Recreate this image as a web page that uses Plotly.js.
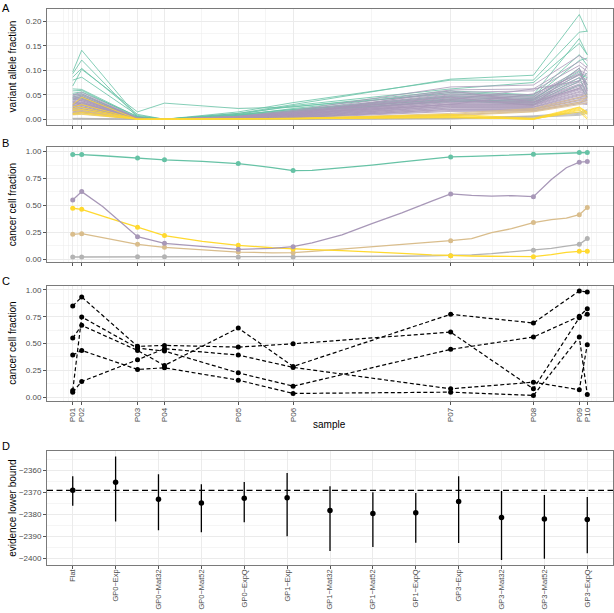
<!DOCTYPE html>
<html>
<head>
<meta charset="utf-8">
<script src="https://cdn.plot.ly/plotly-3.0.1.min.js"></script>
<style>html,body{margin:0;padding:0;background:#fff}#chart{width:614px;height:613px}</style>
</head>
<body>
<div id="chart"></div>
<script>
// ---------------- data ----------------
const sampleNames = ['P01','P02','P03','P04','P05','P06','P07','P08','P09','P10'];
const sampleTime  = [0, 9, 65, 92, 166, 221, 379, 462, 508, 516];
const cloneColors = ['#66C2A5', '#A898B8', '#FFD92F', '#D9BD8C', '#B3B3B3'];

// Panel A: variant allele fraction per mutation (rows), grouped by clone
const vafClone1 = [
  [0.097, 0.141, 0.005, 0.000, 0.012, 0.030, 0.082, 0.090, 0.214, 0.179],
  [0.093, 0.121, 0.004, 0.000, 0.015, 0.034, 0.080, 0.080, 0.178, 0.180],
  [0.086, 0.104, 0.010, 0.000, 0.010, 0.028, 0.062, 0.075, 0.155, 0.132],
  [0.068, 0.102, 0.015, 0.033, 0.022, 0.025, 0.058, 0.050, 0.165, 0.132],
  [0.080, 0.086, 0.008, 0.000, 0.008, 0.022, 0.055, 0.048, 0.132, 0.110],
  [0.062, 0.061, 0.005, 0.000, 0.012, 0.026, 0.052, 0.045, 0.120, 0.125],
  [0.058, 0.059, 0.003, 0.000, 0.009, 0.020, 0.048, 0.042, 0.098, 0.062],
  [0.053, 0.056, 0.006, 0.000, 0.007, 0.018, 0.046, 0.038, 0.092, 0.085],
  [0.050, 0.052, 0.002, 0.000, 0.006, 0.016, 0.042, 0.035, 0.085, 0.050],
  [0.046, 0.049, 0.003, 0.000, 0.010, 0.020, 0.040, 0.033, 0.078, 0.095],
  [0.043, 0.046, 0.002, 0.000, 0.005, 0.014, 0.038, 0.030, 0.070, 0.045],
  [0.040, 0.043, 0.004, 0.000, 0.008, 0.017, 0.036, 0.040, 0.104, 0.070]
];
const vafClone2 = [
  [0.050, 0.055, 0.003, 0, 0.006, 0.018, 0.066, 0.070, 0.130, 0.120],
  [0.048, 0.052, 0.002, 0, 0.005, 0.016, 0.060, 0.062, 0.118, 0.105],
  [0.045, 0.050, 0.002, 0, 0.006, 0.015, 0.055, 0.058, 0.110, 0.098],
  [0.043, 0.047, 0.001, 0, 0.004, 0.014, 0.052, 0.050, 0.100, 0.092],
  [0.041, 0.046, 0.002, 0, 0.005, 0.013, 0.050, 0.047, 0.095, 0.088],
  [0.039, 0.044, 0.001, 0, 0.004, 0.012, 0.048, 0.045, 0.090, 0.080],
  [0.037, 0.042, 0.001, 0, 0.003, 0.012, 0.046, 0.043, 0.085, 0.075],
  [0.035, 0.040, 0.002, 0, 0.004, 0.011, 0.044, 0.041, 0.080, 0.072],
  [0.034, 0.038, 0.001, 0, 0.003, 0.010, 0.042, 0.040, 0.076, 0.068],
  [0.032, 0.036, 0.001, 0, 0.003, 0.010, 0.040, 0.038, 0.072, 0.065],
  [0.031, 0.035, 0.001, 0, 0.002, 0.009, 0.038, 0.036, 0.070, 0.062],
  [0.030, 0.033, 0.000, 0, 0.003, 0.009, 0.037, 0.035, 0.067, 0.060],
  [0.028, 0.032, 0.001, 0, 0.002, 0.008, 0.035, 0.034, 0.064, 0.058],
  [0.027, 0.030, 0.000, 0, 0.002, 0.008, 0.034, 0.032, 0.062, 0.056],
  [0.026, 0.029, 0.001, 0, 0.002, 0.007, 0.032, 0.031, 0.060, 0.054],
  [0.025, 0.028, 0.000, 0, 0.002, 0.007, 0.031, 0.030, 0.057, 0.052],
  [0.024, 0.026, 0.000, 0, 0.001, 0.006, 0.030, 0.029, 0.055, 0.050],
  [0.022, 0.025, 0.000, 0, 0.001, 0.006, 0.028, 0.028, 0.052, 0.048],
  [0.021, 0.024, 0.000, 0, 0.001, 0.005, 0.027, 0.026, 0.050, 0.046],
  [0.020, 0.022, 0.000, 0, 0.001, 0.005, 0.026, 0.025, 0.048, 0.044],
  [0.018, 0.021, 0.000, 0, 0.001, 0.004, 0.024, 0.024, 0.045, 0.042],
  [0.017, 0.020, 0.000, 0, 0.001, 0.004, 0.023, 0.022, 0.043, 0.040],
  [0.015, 0.018, 0.000, 0, 0.000, 0.003, 0.021, 0.021, 0.040, 0.038],
  [0.014, 0.016, 0.000, 0, 0.000, 0.003, 0.020, 0.020, 0.038, 0.035],
  [0.012, 0.015, 0.000, 0, 0.000, 0.003, 0.018, 0.018, 0.035, 0.032],
  [0.010, 0.013, 0.000, 0, 0.000, 0.002, 0.016, 0.017, 0.032, 0.030],
  [0.036, 0.030, 0.001, 0, 0.004, 0.010, 0.058, 0.035, 0.063, 0.085],
  [0.029, 0.041, 0.001, 0, 0.003, 0.012, 0.030, 0.052, 0.092, 0.070],
  [0.044, 0.038, 0.002, 0, 0.002, 0.009, 0.040, 0.062, 0.078, 0.110],
  [0.023, 0.034, 0.000, 0, 0.005, 0.014, 0.045, 0.028, 0.105, 0.058]
];
const vafClone3 = [
  [0.030, 0.045, 0.000, 0, 0.001, 0.002, 0.010, 0.002, 0.025, 0.015],
  [0.025, 0.030, 0.000, 0, 0.001, 0.002, 0.008, 0.001, 0.022, 0.012],
  [0.022, 0.024, 0.000, 0, 0.000, 0.001, 0.006, 0.000, 0.020, 0.003],
  [0.012, 0.014, 0.000, 0, 0.000, 0.001, 0.004, 0.000, 0.018, 0.010],
  [0.010, 0.011, 0.000, 0, 0.000, 0.001, 0.003, 0.001, 0.015, 0.000],
  [0.018, 0.020, 0.000, 0, 0.000, 0.001, 0.005, 0.000, 0.024, 0.014]
];
const vafClone4 = [
  [0.018, 0.020, 0.000, 0, 0.000, 0.001, 0.012, 0.022, 0.045, 0.050],
  [0.015, 0.016, 0.000, 0, 0.000, 0.001, 0.010, 0.020, 0.040, 0.044],
  [0.012, 0.013, 0.000, 0, 0.000, 0.001, 0.008, 0.018, 0.035, 0.038],
  [0.009, 0.010, 0.000, 0, 0.000, 0.000, 0.007, 0.015, 0.030, 0.034],
  [0.020, 0.017, 0.000, 0, 0.000, 0.001, 0.009, 0.016, 0.033, 0.046]
];
const vafClone5 = [
  [0.001, 0.001, 0, 0, 0, 0, 0.002, 0.006, 0.012, 0.018],
  [0.000, 0.001, 0, 0, 0, 0, 0.001, 0.005, 0.010, 0.015],
  [0.001, 0.000, 0, 0, 0, 0, 0.001, 0.004, 0.008, 0.012],
  [0.002, 0.002, 0, 0, 0, 0, 0.002, 0.007, 0.014, 0.020]
];

// Panel B: clone cancer cell fraction at samples (points) and along time (curves)
const ccfClone1 = [0.973, 0.973, 0.942, 0.924, 0.889, 0.824, 0.951, 0.977, 0.992, 0.992];
const ccfClone2 = [0.550, 0.628, 0.208, 0.146, 0.090, 0.115, 0.606, 0.581, 0.902, 0.908];
const ccfClone3 = [0.473, 0.463, 0.296, 0.218, 0.128, 0.093, 0.031, 0.022, 0.072, 0.072];
const ccfClone4 = [0.230, 0.236, 0.137, 0.109, 0.065, 0.059, 0.171, 0.339, 0.413, 0.479];
const ccfClone5 = [0.019, 0.019, 0.020, 0.020, 0.019, 0.019, 0.031, 0.081, 0.137, 0.190];

const curveTime   = [0, 9, 30, 50, 65, 92, 130, 166, 200, 221, 240, 270, 300, 330, 360, 379, 400, 420, 440, 462, 480, 495, 508, 516];
const curveClone1 = [0.973, 0.973, 0.962, 0.950, 0.942, 0.924, 0.910, 0.889, 0.852, 0.824, 0.826, 0.848, 0.875, 0.905, 0.935, 0.951, 0.956, 0.962, 0.969, 0.977, 0.985, 0.990, 0.992, 0.992];
const curveClone2 = [0.550, 0.628, 0.490, 0.330, 0.208, 0.146, 0.115, 0.090, 0.100, 0.115, 0.150, 0.225, 0.330, 0.430, 0.540, 0.606, 0.592, 0.586, 0.590, 0.581, 0.740, 0.850, 0.902, 0.908];
const curveClone3 = [0.473, 0.463, 0.400, 0.341, 0.296, 0.218, 0.165, 0.128, 0.105, 0.093, 0.088, 0.078, 0.068, 0.052, 0.038, 0.031, 0.028, 0.026, 0.024, 0.022, 0.040, 0.062, 0.072, 0.072];
const curveClone4 = [0.230, 0.236, 0.200, 0.163, 0.137, 0.109, 0.085, 0.065, 0.058, 0.059, 0.072, 0.092, 0.115, 0.135, 0.155, 0.171, 0.190, 0.245, 0.282, 0.339, 0.367, 0.380, 0.413, 0.479];
const curveClone5 = [0.019, 0.019, 0.019, 0.019, 0.020, 0.020, 0.020, 0.019, 0.019, 0.019, 0.020, 0.022, 0.024, 0.026, 0.029, 0.031, 0.038, 0.050, 0.065, 0.081, 0.100, 0.120, 0.137, 0.190];

// Panel C: cluster cancer cell fractions
const ccfCluster1 = [0.850, 0.935, 0.474, 0.483, 0.467, 0.498, 0.607, 0.078, 0.741, 0.773];
const ccfCluster2 = [0.551, 0.670, 0.436, 0.296, 0.645, 0.287, 0.773, 0.692, 0.991, 0.981];
const ccfCluster3 = [0.393, 0.436, 0.259, 0.274, 0.159, 0.035, 0.047, 0.016, 0.561, 0.025];
const ccfCluster4 = [0.062, 0.748, 0.458, 0.430, 0.227, 0.103, 0.446, 0.561, 0.754, 0.825];
const ccfCluster5 = [0.047, 0.146, 0.349, 0.452, 0.393, 0.278, 0.078, 0.140, 0.069, 0.489];

// Panel D: evidence lower bound per model
const models   = ['Flat', 'GP0\u2212Exp', 'GP0\u2212Mat32', 'GP0\u2212Mat52', 'GP0\u2212ExpQ', 'GP1\u2212Exp', 'GP1\u2212Mat32', 'GP1\u2212Mat52', 'GP1\u2212ExpQ', 'GP3\u2212Exp', 'GP3\u2212Mat32', 'GP3\u2212Mat52', 'GP3\u2212ExpQ'];
const elboMean = [-2369.1, -2365.4, -2373.1, -2374.8, -2372.7, -2372.5, -2378.2, -2379.6, -2379.3, -2374.2, -2381.4, -2382.1, -2382.3];
const elboLow  = [-2376.1, -2383.3, -2387.2, -2388.1, -2383.6, -2390.0, -2396.6, -2394.8, -2392.9, -2393.0, -2400.8, -2400.2, -2397.7];
const elboHigh = [-2362.7, -2353.7, -2361.8, -2366.3, -2365.3, -2361.2, -2367.2, -2369.9, -2370.3, -2362.7, -2369.4, -2371.2, -2372.1];

// ---------------- helpers ----------------
function expandRange(vals, f) {
  const lo = Math.min(...vals), hi = Math.max(...vals), s = hi - lo;
  return [lo - f * s, hi + f * s];
}
function minorBreaks(b, lim) {
  const bd = b[1] - b[0];
  let e = b.slice();
  if (lim[0] < e[0]) e.unshift(e[0] - bd);
  if (lim[1] > e[e.length - 1]) e.push(e[e.length - 1] + bd);
  const out = [];
  for (let i = 0; i < e.length - 1; i++) { out.push(e[i], (e[i] + e[i + 1]) / 2); }
  out.push(e[e.length - 1]);
  return out.filter(v => v >= lim[0] && v <= lim[1] && !b.some(m => Math.abs(m - v) < 1e-9));
}
function seq(a, b, s) { const o = []; for (let v = a; v <= b + 1e-9; v += s) o.push(+v.toFixed(6)); return o; }

// ---------------- geometry ----------------
const H = 613, T = 9, B = 47;
const plotH = H - T - B;
function dom(topPx, botPx) { return [(H - B - botPx) / plotH, (H - B - topPx) / plotH]; }
function px2x(p) { return (p - 47) / 566; }
function px2y(p) { return (H - B - p) / plotH; }

const FONT = 'Liberation Sans, Arial, Helvetica, sans-serif';
const tickFont = {family: FONT, size: 8, color: '#4D4D4D'};
const GRID = '#EBEBEB', FRAME = '#7A7A7A', TICK = '#555555';

const xRange = expandRange(sampleTime, 0.05);
const xMinor = minorBreaks(sampleTime, xRange);

function xTimeAxis(anchor, showLabels) {
  return {
    anchor: anchor, domain: [0, 1], range: xRange,
    tickmode: 'array', tickvals: sampleTime, ticktext: sampleNames,
    showticklabels: showLabels, tickangle: -90, tickfont: tickFont,
    ticks: 'outside', ticklen: 3, tickwidth: 1, tickcolor: TICK,
    showgrid: true, gridcolor: GRID, gridwidth: 1,
    minor: {tickmode: 'array', tickvals: xMinor, showgrid: true, gridcolor: GRID, gridwidth: 0.5, ticks: ''},
    showline: true, mirror: true, linecolor: FRAME, linewidth: 1,
    zeroline: false, fixedrange: true, automargin: false
  };
}
function yAxis(anchor, domain, range, step, fmt) {
  const majors = seq(Math.ceil(range[0] / step - 1e-9) * step, range[1], step);
  return {
    anchor: anchor, domain: domain, range: range,
    tickmode: 'array', tickvals: majors, tickformat: fmt, tickfont: tickFont,
    ticks: 'outside', ticklen: 3, tickwidth: 1, tickcolor: TICK,
    showgrid: true, gridcolor: GRID, gridwidth: 1,
    minor: {tickmode: 'array', tickvals: minorBreaks(majors, range), showgrid: true, gridcolor: GRID, gridwidth: 0.5, ticks: ''},
    showline: true, mirror: true, linecolor: FRAME, linewidth: 1,
    zeroline: false, fixedrange: true, automargin: false
  };
}

// ---------------- traces ----------------
const traces = [];
const vafGroups = [vafClone1, vafClone2, vafClone4, vafClone5, vafClone3];
const vafGroupColor = [cloneColors[0], cloneColors[1], cloneColors[3], cloneColors[4], cloneColors[2]];
vafGroups.forEach((g, gi) => g.forEach(row => traces.push({
  type: 'scatter', mode: 'lines', x: sampleTime, y: row, xaxis: 'x', yaxis: 'y',
  line: {color: vafGroupColor[gi], width: 0.8}, showlegend: false, hoverinfo: 'skip'
})));
const allVaf = [].concat(...vafClone1, ...vafClone2, ...vafClone3, ...vafClone4, ...vafClone5);

const curves = [curveClone1, curveClone2, curveClone3, curveClone4, curveClone5];
const ccfs = [ccfClone1, ccfClone2, ccfClone3, ccfClone4, ccfClone5];
[4, 3, 2, 1, 0].forEach(i => {
  traces.push({type: 'scatter', mode: 'lines', x: curveTime, y: curves[i], xaxis: 'x2', yaxis: 'y2',
    line: {color: cloneColors[i], width: 1.3}, showlegend: false, hoverinfo: 'skip'});
  traces.push({type: 'scatter', mode: 'markers', x: sampleTime, y: ccfs[i], xaxis: 'x2', yaxis: 'y2',
    marker: {color: cloneColors[i], size: 5}, showlegend: false, hoverinfo: 'skip'});
});
const allB = [].concat(...curves, ...ccfs);

const clusters = [ccfCluster1, ccfCluster2, ccfCluster3, ccfCluster4, ccfCluster5];
clusters.forEach(c => traces.push({
  type: 'scatter', mode: 'lines+markers', x: sampleTime, y: c, xaxis: 'x3', yaxis: 'y3',
  line: {color: '#000', width: 1.2, dash: '4px,2.5px'}, marker: {color: '#000', size: 5},
  showlegend: false, hoverinfo: 'skip'
}));
const allC = [].concat(...clusters);

traces.push({
  type: 'scatter', mode: 'markers', x: models, y: elboMean, xaxis: 'x4', yaxis: 'y4',
  marker: {color: '#000', size: 5.5},
  error_y: {type: 'data', symmetric: false,
    array: elboHigh.map((h, i) => h - elboMean[i]),
    arrayminus: elboLow.map((l, i) => elboMean[i] - l),
    width: 0, thickness: 1.3, color: '#000'},
  showlegend: false, hoverinfo: 'skip'
});
const dRange = expandRange(elboLow.concat(elboHigh), 0.05);

// ---------------- layout ----------------
const axD = yAxis('x4', dom(451.3, 565.3), dRange, 10, 'd');
const layout = {
  width: 614, height: 613,
  margin: {l: 47, r: 1, t: T, b: B, pad: 0},
  paper_bgcolor: '#fff', plot_bgcolor: '#fff',
  font: {family: FONT, size: 10, color: '#000'},
  showlegend: false,
  xaxis: xTimeAxis('y', false),
  yaxis: yAxis('x', dom(9.3, 124.5), expandRange(allVaf, 0.05), 0.05, '.2f'),
  xaxis2: xTimeAxis('y2', false),
  yaxis2: yAxis('x2', dom(147.3, 262.2), expandRange(allB, 0.05), 0.25, '.2f'),
  xaxis3: xTimeAxis('y3', true),
  yaxis3: yAxis('x3', dom(285.7, 400.7), expandRange(allC, 0.05), 0.25, '.2f'),
  xaxis4: {
    anchor: 'y4', domain: [0, 1], type: 'category', range: [-0.6, models.length - 0.4],
    tickangle: -90, tickfont: {family: FONT, size: 7.5, color: '#4D4D4D'}, ticklabelstandoff: -3,
    ticks: 'outside', ticklen: 3, tickwidth: 1, tickcolor: TICK,
    showgrid: true, gridcolor: GRID, gridwidth: 1,
    showline: true, mirror: true, linecolor: FRAME, linewidth: 1,
    zeroline: false, fixedrange: true, automargin: false
  },
  yaxis4: axD,
  shapes: [{
    type: 'line', xref: 'x4 domain', x0: 0, x1: 1, yref: 'y4', y0: elboMean[0], y1: elboMean[0],
    line: {color: '#000', width: 1.2, dash: '6px,3.5px'}, layer: 'above'
  }],
  annotations: [
    {text: 'A', x: px2x(0), y: px2y(0), yanchor: 'top'},
    {text: 'B', x: px2x(0), y: px2y(143.3), yanchor: 'middle'},
    {text: 'C', x: px2x(0), y: px2y(280.7), yanchor: 'middle'},
    {text: 'D', x: px2x(0), y: px2y(445.5), yanchor: 'middle'},
  ].map(a => Object.assign(a, {xref: 'paper', yref: 'paper', xanchor: 'left', showarrow: false,
      font: {family: FONT, size: 11, color: '#000'}})).concat([
    {text: 'variant allele fraction', y: px2y(66.9)},
    {text: 'cancer cell fraction', y: px2y(204.8)},
    {text: 'cancer cell fraction', y: px2y(343.2)},
    {text: 'evidence lower bound', y: px2y(508.3)}
  ].map(a => Object.assign(a, {x: px2x(12.5), xref: 'paper', yref: 'paper', xanchor: 'center', yanchor: 'middle',
      textangle: -90, showarrow: false, font: {family: FONT, size: 10, color: '#000'}})), [
    {text: 'sample', x: px2x(329), y: px2y(424.5), xref: 'paper', yref: 'paper', xanchor: 'center', yanchor: 'middle',
      showarrow: false, font: {family: FONT, size: 10, color: '#000'}}
  ])
};

Plotly.newPlot('chart', traces, layout, {staticPlot: true, displayModeBar: false});
</script>
</body>
</html>
